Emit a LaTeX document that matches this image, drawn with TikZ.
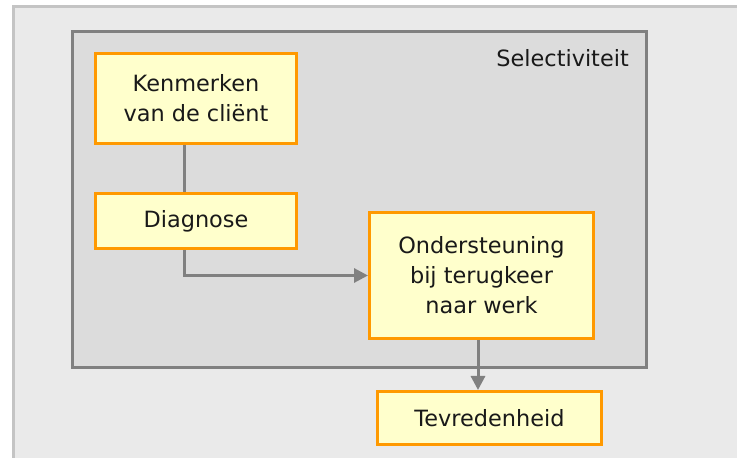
\documentclass[tikz,border=0pt]{standalone}
\usepackage{fontspec}
\setmainfont{DejaVu Sans}
\usetikzlibrary{arrows.meta,positioning}
\definecolor{boxorange}{HTML}{FF9900}
\definecolor{boxfill}{HTML}{FFFFCC}
\definecolor{linegray}{HTML}{808080}
\definecolor{innerfill}{HTML}{DCDCDC}
\definecolor{outerfill}{HTML}{EAEAEA}
\definecolor{outerline}{HTML}{C4C4C4}

\begin{document}
\begin{tikzpicture}[x=1pt,y=1pt,>={Triangle[length=14pt,width=14pt]},
  factor node/.style={rectangle,draw=boxorange,fill=boxfill,line width=3pt,align=center,
    font=\fontsize{22.4}{30}\selectfont,text=black!90},
  link/.style={draw=linegray,line width=3pt}]

        \useasboundingbox (0,0) rectangle (737,458);
        \draw[outerline,fill=outerfill,line width=3pt] (13.5,-10) rectangle (760,451.5);
        \draw[linegray,fill=innerfill,line width=3pt] (72.5,90.5) rectangle (646.5,426.5);
        \node[anchor=east,inner sep=0pt,text=black!90,font=\fontsize{22.4}{26}\selectfont] (sel) at (629,400) {Selectiviteit};

        \node[factor node,minimum width=201pt,minimum height=90pt] (kenmerken) at (196,359.5) {Kenmerken\\van de cliënt};
        \node[factor node,minimum width=201pt,minimum height=55pt] (diagnose) [below=47pt of kenmerken] {Diagnose};
        \node[factor node,minimum width=224pt,minimum height=126pt] (steun) at (481.5,182.5) {Ondersteuning\\bij terugkeer\\naar werk};
        \node[factor node,minimum width=224pt,minimum height=53pt] (tevreden) [below=50pt of steun,xshift=8pt] {Tevredenheid};

        \path[link]
        ([xshift=-12pt]kenmerken.south) -- ([xshift=-12pt]diagnose.north);
        \path[link,->]
        ([xshift=-12pt]diagnose.south) |- (steun.west);
        \path[link,->]
        ([xshift=-3.5pt]steun.south) -- ([xshift=-3.5pt]steun.south |- tevreden.north);
    \end{tikzpicture}
\end{document}
